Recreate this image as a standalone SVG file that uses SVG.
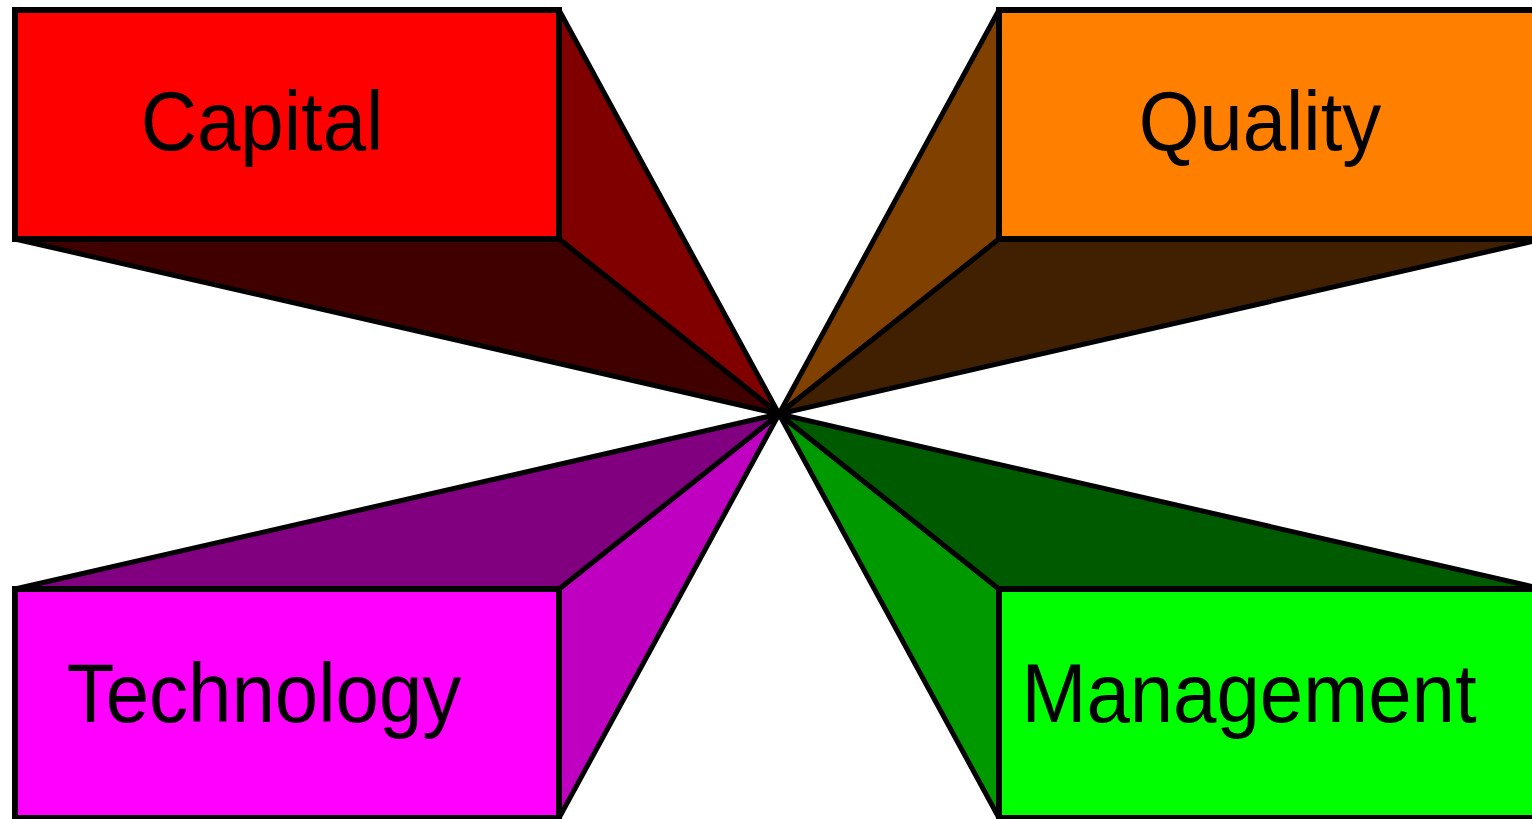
<svg xmlns="http://www.w3.org/2000/svg" width="1532" height="819" viewBox="0 0 1532 819">
<style>
.e{stroke:#000;stroke-width:6;stroke-linejoin:miter}
.t{stroke:#000;stroke-width:5;stroke-linejoin:miter}
.lbl{font-family:"Liberation Sans",Arial,sans-serif;font-size:78px;fill:#000;text-anchor:middle}
</style>
<rect width="1532" height="819" fill="#fff"/>
<g id="capital">
<polygon class="t" points="559,10 779,414 559,239" fill="#800000"/>
<polygon class="t" points="15,239 559,239 779,414" fill="#400000"/>
<rect class="e" x="15" y="10" width="544" height="229" fill="#FF0000"/>
<text class="lbl" transform="translate(262,150) scale(1,1.08)">Capital</text>
</g>
<g id="quality">
<polygon class="t" points="999,10 779,414 999,239" fill="#804000"/>
<polygon class="t" points="1543,239 999,239 779,414" fill="#402000"/>
<rect class="e" x="999" y="10" width="544" height="229" fill="#FF8000"/>
<text class="lbl" transform="translate(1260,150) scale(1,1.08)">Quality</text>
</g>
<g id="technology">
<polygon class="t" points="559,818 779,414 559,589" fill="#C000C0"/>
<polygon class="t" points="15,589 559,589 779,414" fill="#800080"/>
<rect class="e" x="15" y="589" width="544" height="229" fill="#FF00FF"/>
<text class="lbl" transform="translate(264,722) scale(1,1.08)">Technology</text>
</g>
<g id="management">
<polygon class="t" points="999,818 779,414 999,589" fill="#009A00"/>
<polygon class="t" points="1543,589 999,589 779,414" fill="#005A00"/>
<rect class="e" x="999" y="589" width="544" height="229" fill="#00FF00"/>
<text class="lbl" transform="translate(1249,722) scale(1,1.08)">Management</text>
</g>
<g id="connectors"></g>
</svg>
